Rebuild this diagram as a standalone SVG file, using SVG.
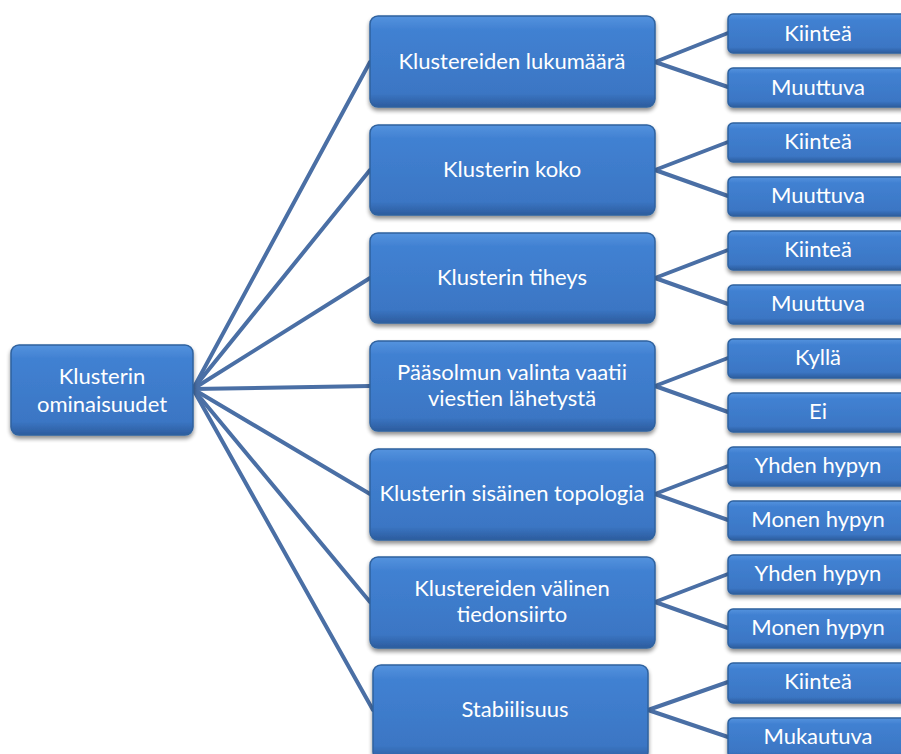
<svg xmlns="http://www.w3.org/2000/svg" width="901" height="754" viewBox="0 0 901 754">
<defs>
<linearGradient id="g2" x1="0" y1="0" x2="0" y2="1">
<stop offset="0" stop-color="#5593de"/>
<stop offset="0.15" stop-color="#4181d2"/>
<stop offset="0.85" stop-color="#3b76c4"/>
<stop offset="1" stop-color="#2c5c9e"/>
</linearGradient>
<filter id="sh" x="-10%" y="-10%" width="130%" height="140%">
<feGaussianBlur in="SourceAlpha" stdDeviation="2"/>
<feOffset dx="0" dy="3" result="b"/>
<feComponentTransfer><feFuncA type="linear" slope="0.45"/></feComponentTransfer>
<feMerge><feMergeNode/><feMergeNode in="SourceGraphic"/></feMerge>
</filter>
</defs>
<style>
.n rect{fill:url(#g2);stroke:#2f629f;stroke-width:1.5;filter:url(#sh)}
.n text{fill:#ffffff;font-family:Lato,"Open Sans","Liberation Sans",sans-serif;font-size:22px;text-anchor:middle}
#conn line{stroke:#4a6fa5;stroke-width:4;stroke-linecap:round}
</style>
<rect width="901" height="754" fill="#ffffff"/>
<g id="conn">
<line x1="193" y1="389" x2="370" y2="62"/>
<line x1="193" y1="389" x2="370" y2="170"/>
<line x1="193" y1="389" x2="370" y2="278"/>
<line x1="193" y1="389" x2="370" y2="386"/>
<line x1="193" y1="389" x2="370" y2="494"/>
<line x1="193" y1="389" x2="370" y2="602"/>
<line x1="193" y1="389" x2="373" y2="710"/>
<line x1="655" y1="62" x2="728" y2="33"/>
<line x1="655" y1="62" x2="728" y2="87"/>
<line x1="655" y1="170" x2="728" y2="142"/>
<line x1="655" y1="170" x2="728" y2="196"/>
<line x1="655" y1="278" x2="728" y2="250"/>
<line x1="655" y1="278" x2="728" y2="304"/>
<line x1="655" y1="386" x2="728" y2="358"/>
<line x1="655" y1="386" x2="728" y2="412"/>
<line x1="655" y1="494" x2="728" y2="466"/>
<line x1="655" y1="494" x2="728" y2="520"/>
<line x1="655" y1="602" x2="728" y2="574"/>
<line x1="655" y1="602" x2="728" y2="628"/>
<line x1="648" y1="710" x2="728" y2="682"/>
<line x1="648" y1="710" x2="728" y2="737"/>
</g>
<g id="root" class="n"><rect x="11" y="345" width="182" height="90" rx="8"/><text x="102" y="384">Klusterin</text><text x="102" y="412">ominaisuudet</text></g>
<g id="m1" class="n"><rect x="370" y="16" width="285" height="91" rx="8"/><text x="512" y="69">Klustereiden lukumäärä</text></g>
<g id="m2" class="n"><rect x="370" y="125" width="285" height="90" rx="8"/><text x="512" y="177">Klusterin koko</text></g>
<g id="m3" class="n"><rect x="370" y="233" width="285" height="90" rx="8"/><text x="512" y="285">Klusterin tiheys</text></g>
<g id="m4" class="n"><rect x="370" y="341" width="285" height="90" rx="8"/><text x="512" y="380">Pääsolmun valinta vaatii</text><text x="512" y="406">viestien lähetystä</text></g>
<g id="m5" class="n"><rect x="370" y="449" width="285" height="91" rx="8"/><text x="512" y="501">Klusterin sisäinen topologia</text></g>
<g id="m6" class="n"><rect x="370" y="557" width="285" height="91" rx="8"/><text x="512" y="596">Klustereiden välinen</text><text x="512" y="622">tiedonsiirto</text></g>
<g id="m7" class="n"><rect x="373" y="665" width="275" height="95" rx="8"/><text x="515" y="717">Stabiilisuus</text></g>
<g id="l1a" class="n"><rect x="728" y="14" width="182" height="39" rx="5"/><text x="818" y="41">Kiinteä</text></g>
<g id="l1b" class="n"><rect x="728" y="68" width="182" height="39" rx="5"/><text x="818" y="95">Muuttuva</text></g>
<g id="l2a" class="n"><rect x="728" y="123" width="182" height="39" rx="5"/><text x="818" y="149">Kiinteä</text></g>
<g id="l2b" class="n"><rect x="728" y="177" width="182" height="39" rx="5"/><text x="818" y="203">Muuttuva</text></g>
<g id="l3a" class="n"><rect x="728" y="231" width="182" height="39" rx="5"/><text x="818" y="257">Kiinteä</text></g>
<g id="l3b" class="n"><rect x="728" y="285" width="182" height="39" rx="5"/><text x="818" y="311">Muuttuva</text></g>
<g id="l4a" class="n"><rect x="728" y="339" width="182" height="39" rx="5"/><text x="818" y="365">Kyllä</text></g>
<g id="l4b" class="n"><rect x="728" y="393" width="182" height="39" rx="5"/><text x="818" y="419">Ei</text></g>
<g id="l5a" class="n"><rect x="728" y="447" width="182" height="39" rx="5"/><text x="818" y="473">Yhden hypyn</text></g>
<g id="l5b" class="n"><rect x="728" y="501" width="182" height="39" rx="5"/><text x="818" y="527">Monen hypyn</text></g>
<g id="l6a" class="n"><rect x="728" y="555" width="182" height="39" rx="5"/><text x="818" y="581">Yhden hypyn</text></g>
<g id="l6b" class="n"><rect x="728" y="609" width="182" height="39" rx="5"/><text x="818" y="635">Monen hypyn</text></g>
<g id="l7a" class="n"><rect x="728" y="663" width="182" height="40" rx="5"/><text x="818" y="689">Kiinteä</text></g>
<g id="l7b" class="n"><rect x="728" y="718" width="182" height="40" rx="5"/><text x="818" y="744">Mukautuva</text></g>
</svg>
